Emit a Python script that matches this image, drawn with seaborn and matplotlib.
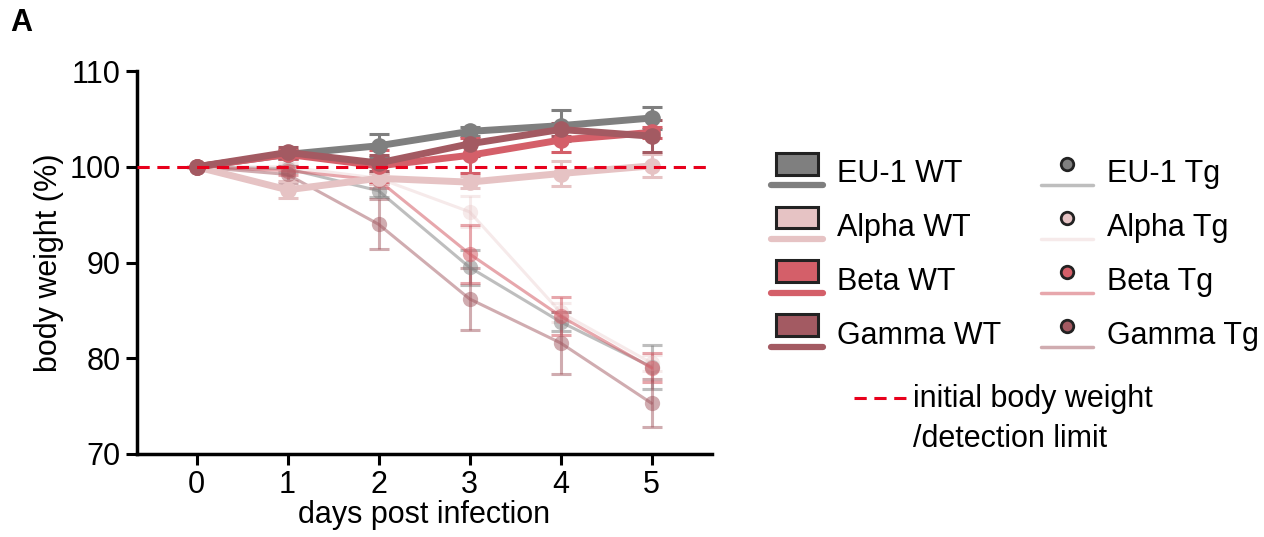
import numpy as np
import pandas as pd
import matplotlib
matplotlib.use("Agg")
import matplotlib.pyplot as plt
import seaborn as sns
from matplotlib.legend_handler import HandlerBase
from matplotlib.patches import Rectangle
from matplotlib.lines import Line2D

# days post infection
days = [0, 1, 2, 3, 4, 5]

# wild type groups (mean, error)
eu1_wt = [100, 101.3, 102.2, 103.7, 104.3, 105.1]
eu1_wt_err = [0, 0.5, 1.2, 0.5, 1.6, 1.1]
alpha_wt = [100, 97.6, 98.8, 98.4, 99.3, 100.1]
alpha_wt_err = [0, 0.9, 0.6, 0.6, 1.3, 1.2]
beta_wt = [100, 101.3, 100.1, 101.2, 102.8, 103.6]
beta_wt_err = [0, 0.5, 1.7, 1.8, 1.2, 0.6]
gamma_wt = [100, 101.5, 100.4, 102.4, 103.9, 103.2]
gamma_wt_err = [0, 0.6, 0.8, 1.3, 0.7, 1.7]

# transgenic groups (mean, error)
eu1_tg = [100, 99.8, 97.5, 89.5, 83.8, 79.1]
eu1_tg_err = [0, 0.3, 0.7, 1.8, 1.0, 2.3]
alpha_tg = [100, 100.0, 98.8, 95.3, 84.8, 79.5]
alpha_tg_err = [0, 0.4, 0.5, 1.6, 1.0, 0.8]
beta_tg = [100, 99.6, 98.6, 90.9, 84.4, 79.0]
beta_tg_err = [0, 0.5, 0.8, 3.0, 2.0, 1.5]
gamma_tg = [100, 99.2, 94.0, 86.2, 81.6, 75.3]
gamma_tg_err = [0, 0.9, 2.6, 3.2, 3.2, 2.5]

variants = ["EU-1", "Alpha", "Beta", "Gamma"]
colors = ["#7f7f7f", "#e6c3c4", "#d45f69", "#a35a62"]
tg_alpha = [0.5, 0.35, 0.55, 0.5]
limit_color = "#e8001c"


class WTHandler(HandlerBase):
    """box with a thick line under it"""
    def create_artists(self, legend, orig_handle, xdescent, ydescent,
                       width, height, fontsize, trans):
        c = orig_handle.get_color()
        x0, y0 = -xdescent, -ydescent
        box = Rectangle((x0 + 0.1 * width, y0 + 0.42 * height), 0.8 * width, 0.7 * height,
                        facecolor=c, edgecolor="#222222", linewidth=2.2, transform=trans)
        line = Line2D([x0, x0 + width], [y0 + 0.08 * height] * 2, color=c, linewidth=4.5,
                      transform=trans)
        return [box, line]


class TgHandler(HandlerBase):
    """circle with a thin line under it"""
    def create_artists(self, legend, orig_handle, xdescent, ydescent,
                       width, height, fontsize, trans):
        c = orig_handle.get_color()
        a = orig_handle.get_alpha()
        x0, y0 = -xdescent, -ydescent
        dot = Line2D([x0 + width / 2], [y0 + 0.75 * height], marker="o", markersize=9,
                     markerfacecolor=c, markeredgecolor="#222222", markeredgewidth=2,
                     linestyle="none", transform=trans)
        line = Line2D([x0, x0 + width], [y0 + 0.08 * height] * 2, color=c, linewidth=2.5,
                      alpha=a, transform=trans)
        return [dot, line]


def plot_group(ax, y, err, color, lw, ms, alpha):
    df = pd.DataFrame({"day": days, "weight": y})
    ax.errorbar(days, y, yerr=err, fmt="none", ecolor=color, elinewidth=2.2,
                capsize=7, capthick=2.2, alpha=alpha, zorder=2)
    sns.lineplot(data=df, x="day", y="weight", ax=ax, color=color, linewidth=lw,
                 marker="o", markersize=ms, markeredgewidth=0, alpha=alpha,
                 legend=False, zorder=3)


def main():
    sns.set_style("ticks")
    plt.rcParams["font.family"] = ["Liberation Sans", "DejaVu Sans"]
    for k in ["text.color", "axes.labelcolor", "xtick.color", "ytick.color"]:
        plt.rcParams[k] = "black"

    fig = plt.figure(figsize=(12.64, 5.37), dpi=100)
    ax = fig.add_axes([0.108, 0.1546, 0.455, 0.713])

    tg = [(eu1_tg, eu1_tg_err), (alpha_tg, alpha_tg_err),
          (beta_tg, beta_tg_err), (gamma_tg, gamma_tg_err)]
    wt = [(eu1_wt, eu1_wt_err), (alpha_wt, alpha_wt_err),
          (beta_wt, beta_wt_err), (gamma_wt, gamma_wt_err)]

    for (y, e), c, a in zip(tg, colors, tg_alpha):
        plot_group(ax, y, e, c, 2.2, 11, a)
    for i in [1, 0, 2, 3]:
        y, e = wt[i]
        plot_group(ax, y, e, colors[i], 5, 12, 1.0)

    ax.axhline(100, color=limit_color, linestyle=(0, (4, 2.5)), linewidth=2.2, zorder=5)

    ax.set_xlim(-0.66, 5.66)
    ax.set_ylim(70, 110)
    ax.set_xticks(days)
    ax.set_yticks([70, 80, 90, 100, 110])
    ax.set_xlabel("days post infection", fontsize=22, labelpad=0)
    ax.set_ylabel("body weight (%)", fontsize=22, labelpad=4)
    ax.tick_params(axis="both", labelsize=22, width=2.2, length=8, color="black")
    sns.despine(ax=ax)
    for s in ["left", "bottom"]:
        ax.spines[s].set_linewidth(2.5)
        ax.spines[s].set_color("black")

    # legend
    wt_handles = [Line2D([], [], color=c) for c in colors]
    tg_handles = [Line2D([], [], color=c, alpha=a) for c, a in zip(colors, tg_alpha)]
    labels = [v + " WT" for v in variants] + [v + " Tg" for v in variants]
    hmap = {h: WTHandler() for h in wt_handles}
    hmap.update({h: TgHandler() for h in tg_handles})
    fig.legend(wt_handles + tg_handles, labels, ncol=2, handler_map=hmap,
               loc="upper left", bbox_to_anchor=(0.598, 0.737), frameon=False,
               fontsize=22, handlelength=1.7, handleheight=1.2,
               handletextpad=0.45, labelspacing=0.68, columnspacing=1.3,
               borderpad=0)

    # detection limit key
    fig.add_artist(Line2D([0.676, 0.72], [1 - 398 / 537] * 2, color=limit_color,
                          linestyle=(0, (4, 2.5)), linewidth=2.2,
                          transform=fig.transFigure))
    fig.text(0.7225, 1 - 384 / 537, "initial body weight\n/detection limit",
             fontsize=22, ha="left", va="top", linespacing=1.45,
             transform=fig.transFigure)

    fig.text(0.008, 0.985, "A", fontsize=22, fontweight="bold", va="top", ha="left")

    fig.savefig("out.png", dpi=100)


if __name__ == "__main__":
    main()
